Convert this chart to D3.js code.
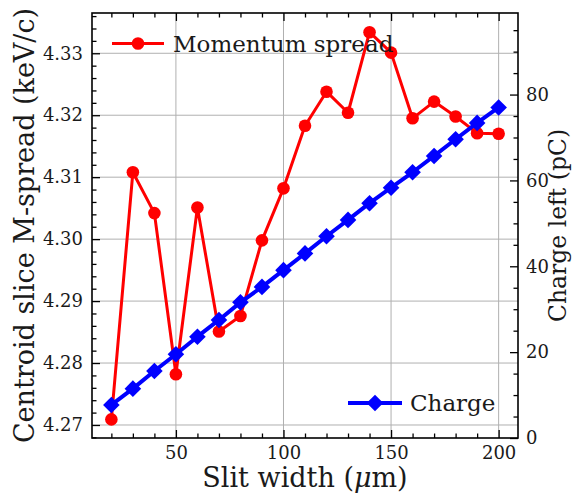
<!DOCTYPE html>
<html>
<head>
<meta charset="utf-8">
<script src="https://cdn.jsdelivr.net/npm/d3@7"></script>
<style>
  html, body { margin: 0; padding: 0; background: #ffffff; }
  svg { display: block; }
  text { font-family: "DejaVu Serif", serif; fill: #1a1a1a; }
</style>
</head>
<body>
<div id="chart"></div>
<script>
// ---- data ----
const slitWidth = [20, 30, 40, 50, 60, 70, 80, 90, 100, 110, 120, 130, 140, 150, 160, 170, 180, 190, 200];
const momentumSpread = [4.2709, 4.3108, 4.3042, 4.2782, 4.3051, 4.2851, 4.2876, 4.2998, 4.3082, 4.3183,
                        4.3238, 4.3204, 4.3334, 4.3301, 4.3195, 4.3222, 4.3198, 4.3171, 4.3170];
const chargeLeft = [7.7, 11.5, 15.6, 19.5, 23.6, 27.5, 31.6, 35.2, 39.1, 43.0,
                    47.0, 50.8, 54.7, 58.3, 61.9, 65.7, 69.6, 73.4, 77.0];
const xTicks = [50, 100, 150, 200];
const yLeftTicks = [4.27, 4.28, 4.29, 4.30, 4.31, 4.32, 4.33];
const yRightTicks = [0, 20, 40, 60, 80];
const seriesNames = ["Momentum spread", "Charge"];
const axisLabels = { x: "Slit width (", xMu: "\u03bc", xEnd: "m)", yLeft: "Centroid slice M-spread (keV/c)", yRight: "Charge left (pC)" };

// ---- layout ----
const W = 572, H = 493;
const L = 92, R = 518, T = 13, B = 438;
const svg = d3.select("#chart").append("svg").attr("width", W).attr("height", H);

const x = d3.scaleLinear().domain([11, 209]).range([L, R]);
const yL = d3.scaleLinear().domain([4.2679, 4.3365]).range([B, T]);
const yR = d3.scaleLinear().domain([0, 99]).range([B, T]);

const xMinor = d3.range(20, 210, 10).filter(v => !xTicks.includes(v));
const yLMinor = d3.range(4.268, 4.3365, 0.002).filter(v => !yLeftTicks.some(t => Math.abs(t - v) < 1e-6));
const yRMinor = d3.range(5, 99, 5).filter(v => v % 20 !== 0);

// ---- grid ----
const grid = svg.append("g").attr("stroke", "#b0b0b0").attr("stroke-width", 1);
xTicks.forEach(v => grid.append("line").attr("x1", x(v)).attr("x2", x(v)).attr("y1", T).attr("y2", B));
yLeftTicks.forEach(v => grid.append("line").attr("x1", L).attr("x2", R).attr("y1", yL(v)).attr("y2", yL(v)));

// ---- axes ----
const fs = 18;
function styleAxis(g) {
  g.select(".domain").remove();
  g.selectAll("line").attr("stroke", "#000").attr("stroke-width", 1.3);
  g.selectAll("text").attr("font-size", fs).style("font-family", "DejaVu Serif").attr("fill", "#1a1a1a");
}
// bottom
svg.append("g").attr("transform", `translate(0,${B})`)
  .call(d3.axisBottom(x).tickValues(xTicks).tickSize(-8).tickPadding(8).tickFormat(d3.format("d"))).call(styleAxis);
svg.append("g").attr("transform", `translate(0,${B})`)
  .call(d3.axisBottom(x).tickValues(xMinor).tickSize(-4.5).tickFormat("")).call(styleAxis);
// top (mirrored ticks)
svg.append("g").attr("transform", `translate(0,${T})`)
  .call(d3.axisTop(x).tickValues(xTicks).tickSize(-8).tickFormat("")).call(styleAxis);
svg.append("g").attr("transform", `translate(0,${T})`)
  .call(d3.axisTop(x).tickValues(xMinor).tickSize(-4.5).tickFormat("")).call(styleAxis);
// left
svg.append("g").attr("transform", `translate(${L},0)`)
  .call(d3.axisLeft(yL).tickValues(yLeftTicks).tickSize(-8).tickPadding(9).tickFormat(d3.format(".2f"))).call(styleAxis);
svg.append("g").attr("transform", `translate(${L},0)`)
  .call(d3.axisLeft(yL).tickValues(yLMinor).tickSize(-4.5).tickFormat("")).call(styleAxis);
// right
svg.append("g").attr("transform", `translate(${R},0)`)
  .call(d3.axisRight(yR).tickValues(yRightTicks).tickSize(-8).tickPadding(8).tickFormat(d3.format("d"))).call(styleAxis);
svg.append("g").attr("transform", `translate(${R},0)`)
  .call(d3.axisRight(yR).tickValues(yRMinor).tickSize(-4.5).tickFormat("")).call(styleAxis);

// ---- series ----
const red = "#ff0000", blue = "#0000ff";
const lineL = d3.line().x((d, i) => x(slitWidth[i])).y(d => yL(d));
const lineR = d3.line().x((d, i) => x(slitWidth[i])).y(d => yR(d));

svg.append("path").datum(momentumSpread).attr("d", lineL)
  .attr("fill", "none").attr("stroke", red).attr("stroke-width", 3).attr("stroke-linejoin", "round");
svg.append("g").selectAll("circle").data(momentumSpread).join("circle")
  .attr("cx", (d, i) => x(slitWidth[i])).attr("cy", d => yL(d)).attr("r", 6.3).attr("fill", red);

const diamond = s => `M0,${-s}L${s},0L0,${s}L${-s},0Z`;

// legend 1 (momentum), drawn under ax2 content like matplotlib twinx
const lg1 = svg.append("g");
lg1.append("line").attr("x1", 112).attr("x2", 164).attr("y1", 43.5).attr("y2", 43.5).attr("stroke", red).attr("stroke-width", 3);
lg1.append("circle").attr("cx", 138).attr("cy", 43.5).attr("r", 6.3).attr("fill", red);
lg1.append("text").attr("x", 173).attr("y", 51.5).attr("font-size", 23).text(seriesNames[0]);

svg.append("path").datum(chargeLeft).attr("d", lineR)
  .attr("fill", "none").attr("stroke", blue).attr("stroke-width", 4).attr("stroke-linejoin", "round");
svg.append("g").selectAll("path").data(chargeLeft).join("path")
  .attr("transform", (d, i) => `translate(${x(slitWidth[i])},${yR(d)})`)
  .attr("d", diamond(8.3)).attr("fill", blue);

const lg2 = svg.append("g");
lg2.append("line").attr("x1", 348).attr("x2", 402).attr("y1", 403).attr("y2", 403).attr("stroke", blue).attr("stroke-width", 4);
lg2.append("path").attr("transform", "translate(375,403)").attr("d", diamond(8.3)).attr("fill", blue);
lg2.append("text").attr("x", 410).attr("y", 411).attr("font-size", 23).text(seriesNames[1]);

// ---- frame ----
svg.append("rect").attr("x", L).attr("y", T).attr("width", R - L).attr("height", B - T)
  .attr("fill", "none").attr("stroke", "#000").attr("stroke-width", 1.6);

// ---- axis labels ----
const xl = svg.append("text").attr("x", (L + R) / 2).attr("y", 487).attr("text-anchor", "middle").attr("font-size", 27);
xl.append("tspan").text(axisLabels.x);
xl.append("tspan").attr("font-style", "italic").text(axisLabels.xMu);
xl.append("tspan").text(axisLabels.xEnd);

svg.append("text").attr("transform", `translate(34,${(T + B) / 2}) rotate(-90)`)
  .attr("text-anchor", "middle").attr("font-size", 27).text(axisLabels.yLeft);
svg.append("text").attr("transform", `translate(566,${(T + B) / 2}) rotate(-90)`)
  .attr("text-anchor", "middle").attr("font-size", 23.5).text(axisLabels.yRight);
</script>
</body>
</html>
